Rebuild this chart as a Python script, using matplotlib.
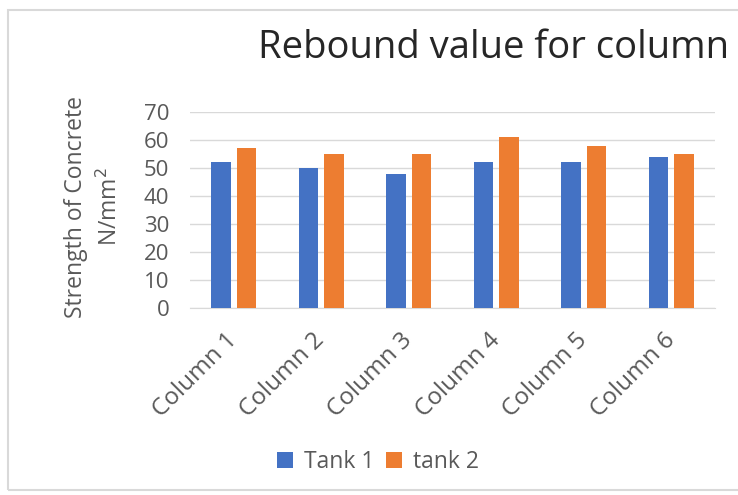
import numpy as np
import matplotlib
matplotlib.use('Agg')
import matplotlib.pyplot as plt
from matplotlib.patches import Rectangle

# data
columns = ['Column 1', 'Column 2', 'Column 3', 'Column 4', 'Column 5', 'Column 6']
tank1 = [52, 50, 48, 52, 52, 54]
tank2 = [57, 55, 55, 61, 58, 55]
yticks = [0, 10, 20, 30, 40, 50, 60, 70]

blue = '#4472C4'
orange = '#ED7D31'
grey_txt = '#595959'

plt.rcParams['font.family'] = ['Open Sans', 'DejaVu Sans']

fig = plt.figure(figsize=(7.38, 4.95), dpi=100)

# chart frame (cut-off screenshot border)
fig.patches.append(Rectangle((8 / 738, 5 / 495), 1.0, 1 - 15 / 495, transform=fig.transFigure,
                             fill=False, edgecolor='#d9d9d9', linewidth=1.5))

ax = fig.add_axes([190 / 738, 1 - 308 / 495, 525 / 738, 196 / 495])

x = np.arange(len(columns))
w = 0.22
ax.bar(x - 0.145, tank1, w, color=blue, label='Tank 1', zorder=3)
ax.bar(x + 0.145, tank2, w, color=orange, label='tank 2', zorder=3)

ax.set_xlim(-0.5, len(columns) - 0.5)
ax.set_ylim(0, 70)
ax.set_yticks(yticks)
ax.set_yticklabels([str(v) for v in yticks], fontsize=16, color=grey_txt)
ax.yaxis.grid(True, color='#d9d9d9', linewidth=1, zorder=0)
ax.tick_params(axis='both', length=0, pad=15)

ax.set_xticks(x)
ax.set_xticklabels(columns, rotation=45, ha='right', va='center', rotation_mode='anchor',
                   fontsize=17.5, color=grey_txt)
ax.tick_params(axis='x', pad=21)

for s in ['top', 'right', 'left']:
    ax.spines[s].set_visible(False)
ax.spines['bottom'].set_color('#d9d9d9')

ax.set_ylabel('Strength of Concrete\nN/mm$^2$', fontsize=16.5, color=grey_txt,
              linespacing=1.55)
ax.yaxis.set_label_coords(-0.127, 0.515)

fig.text(258 / 738, 1 - 48 / 495, 'Rebound value for column', fontsize=27.5,
         color='#262626', ha='left', va='center')

fig.legend(loc='center', bbox_to_anchor=(378 / 738, 1 - 462 / 495), ncol=2, frameon=False,
           fontsize=16.5, labelcolor=grey_txt, handlelength=0.7, handleheight=0.7,
           handletextpad=0.5, columnspacing=0.5)

fig.savefig('out.png', dpi=100)
